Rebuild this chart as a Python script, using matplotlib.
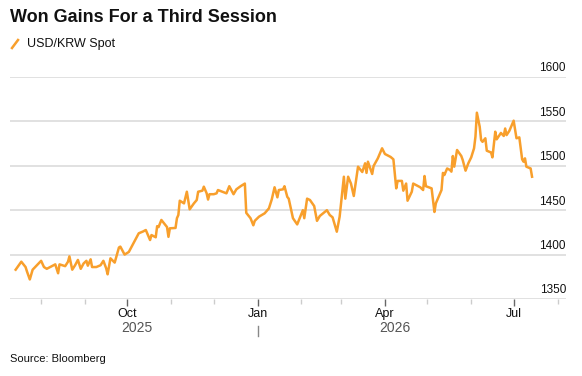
import numpy as np
import pandas as pd
import matplotlib
matplotlib.use("Agg")
import matplotlib.pyplot as plt
import matplotlib.dates as mdates
from matplotlib.ticker import FixedLocator

plt.rcParams['font.family'] = ['Liberation Sans', 'DejaVu Sans']

title = "Won Gains For a Third Session"
series_name = "USD/KRW Spot"
source = "Source: Bloomberg"

dates = [
    "2025-07-14", "2025-07-18", "2025-07-21", "2025-07-22", "2025-07-24", "2025-07-26", "2025-07-29",
    "2025-08-01", "2025-08-03", "2025-08-05", "2025-08-07", "2025-08-11", "2025-08-13", "2025-08-14",
    "2025-08-18", "2025-08-20", "2025-08-21", "2025-08-23", "2025-08-25", "2025-08-27", "2025-08-29",
    "2025-08-31", "2025-09-02", "2025-09-03", "2025-09-05", "2025-09-06", "2025-09-09", "2025-09-12",
    "2025-09-14", "2025-09-16", "2025-09-17", "2025-09-19", "2025-09-22", "2025-09-25", "2025-09-26",
    "2025-09-29", "2025-10-02", "2025-10-05", "2025-10-09", "2025-10-12", "2025-10-14", "2025-10-17",
    "2025-10-18", "2025-10-21", "2025-10-22", "2025-10-23", "2025-10-25", "2025-10-28", "2025-10-29",
    "2025-10-30", "2025-10-31", "2025-11-04", "2025-11-05", "2025-11-06", "2025-11-07", "2025-11-10",
    "2025-11-12", "2025-11-14", "2025-11-17", "2025-11-19", "2025-11-20", "2025-11-23", "2025-11-24",
    "2025-11-26", "2025-11-27", "2025-11-28", "2025-12-01", "2025-12-03", "2025-12-04", "2025-12-07",
    "2025-12-10", "2025-12-12", "2025-12-15", "2025-12-17", "2025-12-20", "2025-12-23", "2025-12-24",
    "2025-12-27", "2025-12-29", "2025-12-30", "2026-01-02", "2026-01-04", "2026-01-06", "2026-01-09",
    "2026-01-11", "2026-01-13", "2026-01-15", "2026-01-16", "2026-01-19", "2026-01-20", "2026-01-22",
    "2026-01-23", "2026-01-26", "2026-01-29", "2026-01-31", "2026-02-02", "2026-02-03", "2026-02-05",
    "2026-02-07", "2026-02-09", "2026-02-10", "2026-02-12", "2026-02-14", "2026-02-19", "2026-02-21",
    "2026-02-23", "2026-02-26", "2026-02-28", "2026-03-03", "2026-03-04", "2026-03-06", "2026-03-08",
    "2026-03-10", "2026-03-13", "2026-03-16", "2026-03-18", "2026-03-19", "2026-03-20", "2026-03-23",
    "2026-03-24", "2026-03-27", "2026-03-30", "2026-04-01", "2026-04-05", "2026-04-07", "2026-04-09",
    "2026-04-10", "2026-04-13", "2026-04-14", "2026-04-16", "2026-04-17", "2026-04-20", "2026-04-21",
    "2026-04-26", "2026-04-28", "2026-04-29", "2026-04-30", "2026-05-04", "2026-05-06", "2026-05-07",
    "2026-05-11", "2026-05-12", "2026-05-13", "2026-05-15", "2026-05-17", "2026-05-18", "2026-05-19",
    "2026-05-20", "2026-05-22", "2026-05-25", "2026-05-26", "2026-05-28", "2026-05-30", "2026-06-01",
    "2026-06-03", "2026-06-04", "2026-06-05", "2026-06-07", "2026-06-08", "2026-06-09", "2026-06-11",
    "2026-06-12", "2026-06-15", "2026-06-16", "2026-06-18", "2026-06-19", "2026-06-21", "2026-06-22",
    "2026-06-24", "2026-06-25", "2026-06-26", "2026-06-28", "2026-07-01", "2026-07-03", "2026-07-05",
    "2026-07-07", "2026-07-08", "2026-07-09", "2026-07-10", "2026-07-13", "2026-07-14",
]

spot = [
    1383, 1392, 1386, 1381, 1372, 1383, 1388,
    1393, 1386, 1384, 1385.7, 1389, 1379, 1389,
    1387, 1392, 1398, 1383, 1388, 1394, 1384,
    1390, 1393, 1387.5, 1394.7, 1386, 1386, 1388,
    1393, 1384.5, 1377.8, 1395.8, 1391, 1408, 1409,
    1400, 1403, 1412, 1424, 1426, 1427.7, 1416.4,
    1422, 1419.5, 1432, 1431, 1439, 1433, 1431,
    1420, 1429.6, 1430, 1441, 1444.6, 1460.7, 1457.7,
    1470.8, 1451, 1457.7, 1461.5, 1470.8, 1472, 1476.5,
    1469, 1462, 1468, 1468, 1469, 1472.7, 1470.8,
    1469, 1477, 1468, 1473.5, 1477, 1480, 1447,
    1441, 1433, 1438, 1442.7, 1444.6, 1446.5, 1452,
    1462, 1475.8, 1464.5, 1472.7, 1473.5, 1477, 1465,
    1463, 1441, 1434, 1442, 1450, 1441, 1463,
    1461.5, 1457, 1454.7, 1438, 1443.5, 1450, 1444.6,
    1442, 1425.8, 1442.7, 1487.7, 1463, 1487.7, 1480,
    1466, 1499, 1493, 1502.8, 1492, 1504.6, 1490.8,
    1499.8, 1508.4, 1519.7, 1513.3, 1510, 1507.3, 1474.6,
    1483, 1483, 1472, 1480, 1460.7, 1470.8, 1480,
    1475.8, 1472.7, 1488.5, 1477, 1474.6, 1448, 1457.7,
    1472.7, 1492, 1489.6, 1497, 1495.3, 1493.4, 1511,
    1499, 1517.8, 1511, 1506.5, 1494.5, 1503, 1509.5,
    1519.7, 1532.8, 1559.8, 1544, 1529, 1527, 1531,
    1517, 1515, 1509.5, 1538.4, 1529.8, 1534.6, 1537,
    1533.6, 1542, 1534.6, 1539.5, 1550.8, 1531, 1532,
    1507.3, 1504.6, 1508.4, 1499, 1497, 1487.7,
]

y_ticks = [1350, 1400, 1450, 1500, 1550, 1600]
month_ticks = ["2025-10-01", "2026-01-01", "2026-04-01", "2026-07-01"]
years = ["2025", "2026"]

x = pd.to_datetime(dates)
line_color = "#f89f2c"
grid_color = "#dcdcdc"

fig = plt.figure(figsize=(5.82, 3.76), dpi=100)
ax = fig.add_axes([10 / 582, 1 - 299 / 376, 556 / 582, 222 / 376])

for v in y_ticks:
    ax.axhline(v, color=grid_color, lw=1.2, zorder=1)
    ax.text(1.0, v + 3, str(v), transform=ax.get_yaxis_transform(),
            ha="right", va="bottom", fontsize=8.5, color="#111111")

ax.plot(x, spot, color=line_color, lw=1.8, solid_joinstyle="round", zorder=3)

ax.set_xlim(pd.Timestamp("2025-07-10"), pd.Timestamp("2026-08-07"))
ax.set_ylim(1350, 1600)
for s in ax.spines.values():
    s.set_visible(False)
ax.set_yticks([])

ax.xaxis.set_major_locator(FixedLocator(mdates.date2num(pd.to_datetime(month_ticks))))
ax.xaxis.set_major_formatter(mdates.DateFormatter("%b"))
ax.xaxis.set_minor_locator(mdates.MonthLocator())
ax.tick_params(axis="x", which="major", length=5, width=1, color="#666666",
               labelsize=9, labelcolor="#111111", pad=1.5)
ax.tick_params(axis="x", which="minor", length=3.5, width=1, color="#cccccc")

# year labels centred on the visible span of each year
trans = ax.get_xaxis_transform()
start, end = x.min(), x.max()
y25_mid = start + (pd.Timestamp("2026-01-01") - start) / 2
y26_mid = pd.Timestamp("2026-01-01") + (end - pd.Timestamp("2026-01-01")) / 2
for yr, mid in zip(years, [y25_mid, y26_mid]):
    ax.text(mid, -0.13, yr, transform=trans, ha="center", va="center",
            fontsize=10, color="#555555")
ax.plot([pd.Timestamp("2026-01-01")] * 2, [-0.12, -0.165], transform=trans,
        color="#888888", lw=1, clip_on=False)

fig.text(10 / 582, 1 - 18 / 376, title, fontsize=13, fontweight="bold",
         ha="left", va="center", color="#111111")
fig.text(27 / 582, 1 - 44 / 376, series_name, fontsize=9, ha="left", va="center",
         color="#111111")
fig.add_artist(plt.Line2D([12 / 582, 18 / 582], [1 - 48 / 376, 1 - 40 / 376],
                          color=line_color, lw=1.8, transform=fig.transFigure))
fig.text(10 / 582, 1 - 359 / 376, source, fontsize=8, ha="left", va="center",
         color="#111111")

fig.savefig("out.png", dpi=100)
